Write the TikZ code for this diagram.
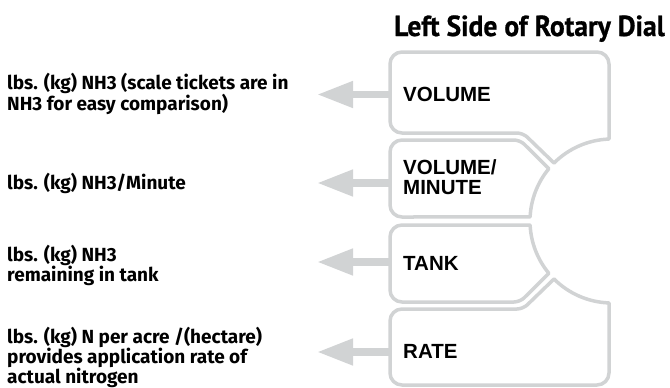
\documentclass[tikz,border=0pt]{standalone}
\usepackage{fontspec}
\setmainfont{PT Sans}
\newfontfamily\titlefont{PT Sans}[BoldFeatures={FakeBold=0.8}]
\newfontfamily\boxfont{Liberation Sans}
\newfontfamily\descfont{Fira Sans}
\usetikzlibrary{arrows.meta}
\definecolor{dialgray}{HTML}{D1D3D4}
\begin{document}
\begin{tikzpicture}[x=1pt,y=1pt,
  dialshape/.style={draw=dialgray, line width=3.5pt, line join=round},
  arr/.style={draw=dialgray, line width=7.5pt, -{Triangle[length=36pt,width=25pt]}},
  lbl/.style={font=\boxfont\bfseries\fontsize{20.5}{20}\selectfont, anchor=west, inner sep=0pt, align=left},
  desc/.style={font=\descfont\bfseries\fontsize{19}{20}\selectfont, anchor=west, inner sep=0pt, align=left},
  ttl/.style={font=\titlefont\bfseries\fontsize{29}{29}\selectfont, anchor=base east, inner sep=0pt}
]
\useasboundingbox (0,0) rectangle (670,-388);

% title
\node[ttl] (title) at (665,-36) {\scalebox{0.95}[1]{Left Side of Rotary Dial}};

% dial shapes
\draw[dialshape] (554.02,-163.02) arc[start angle=135, end angle=92.1, radius=82]
  [rounded corners=12] -- (609,-52) -- (390,-52) -- (390,-133)
  [rounded corners=6] -- (523,-133) [sharp corners] -- cycle;
\draw[dialshape] (548.82,-168.73) arc[start angle=140.4, end angle=177.2, radius=82]
  [rounded corners=12] -- (390,-217) -- (390,-140)
  [rounded corners=6] -- (520,-140) [sharp corners] -- cycle;
\draw[dialshape] (548.82,-273.27) arc[start angle=219.6, end angle=182.8, radius=82]
  [rounded corners=12] -- (390,-225) -- (390,-302)
  [rounded corners=6] -- (520,-302) [sharp corners] -- cycle;
\draw[dialshape] (554.02,-278.98) arc[start angle=225, end angle=267.9, radius=82]
  [rounded corners=12] -- (609,-385) -- (390,-385) -- (390,-309)
  [rounded corners=6] -- (523,-309) [sharp corners] -- cycle;

% box labels
\node[lbl] (volume) at (403,-94) {VOLUME};
\node[lbl] (volmin) at (403,-177) {VOLUME/\\MINUTE};
\node[lbl] (tank) at (403,-263) {TANK};
\node[lbl] (rate) at (403,-351) {RATE};

% descriptions
\node[desc] (d1) at (7,-94) {lbs. (kg) NH3 (scale tickets are in\\NH3 for easy comparison)};
\node[desc] (d2) at (7,-183) {lbs. (kg) NH3/Minute};
\node[desc] (d3) at (7,-265) {lbs. (kg) NH3\\remaining in tank};
\node[desc] (d4) at (7,-357) {lbs. (kg) N per acre /(hectare)\\provides application rate of\\actual nitrogen};

% arrows
\coordinate (s1) at (390,-94.5);  \coordinate (t1) at (317,-94.5);
\coordinate (s2) at (390,-183);   \coordinate (t2) at (317,-183);
\coordinate (s3) at (390,-262);   \coordinate (t3) at (317,-262);
\coordinate (s4) at (390,-352);   \coordinate (t4) at (317,-352);
\draw[arr] (s1) -- (t1);
\draw[arr] (s2) -- (t2);
\draw[arr] (s3) -- (t3);
\draw[arr] (s4) -- (t4);
\end{tikzpicture}
\end{document}
